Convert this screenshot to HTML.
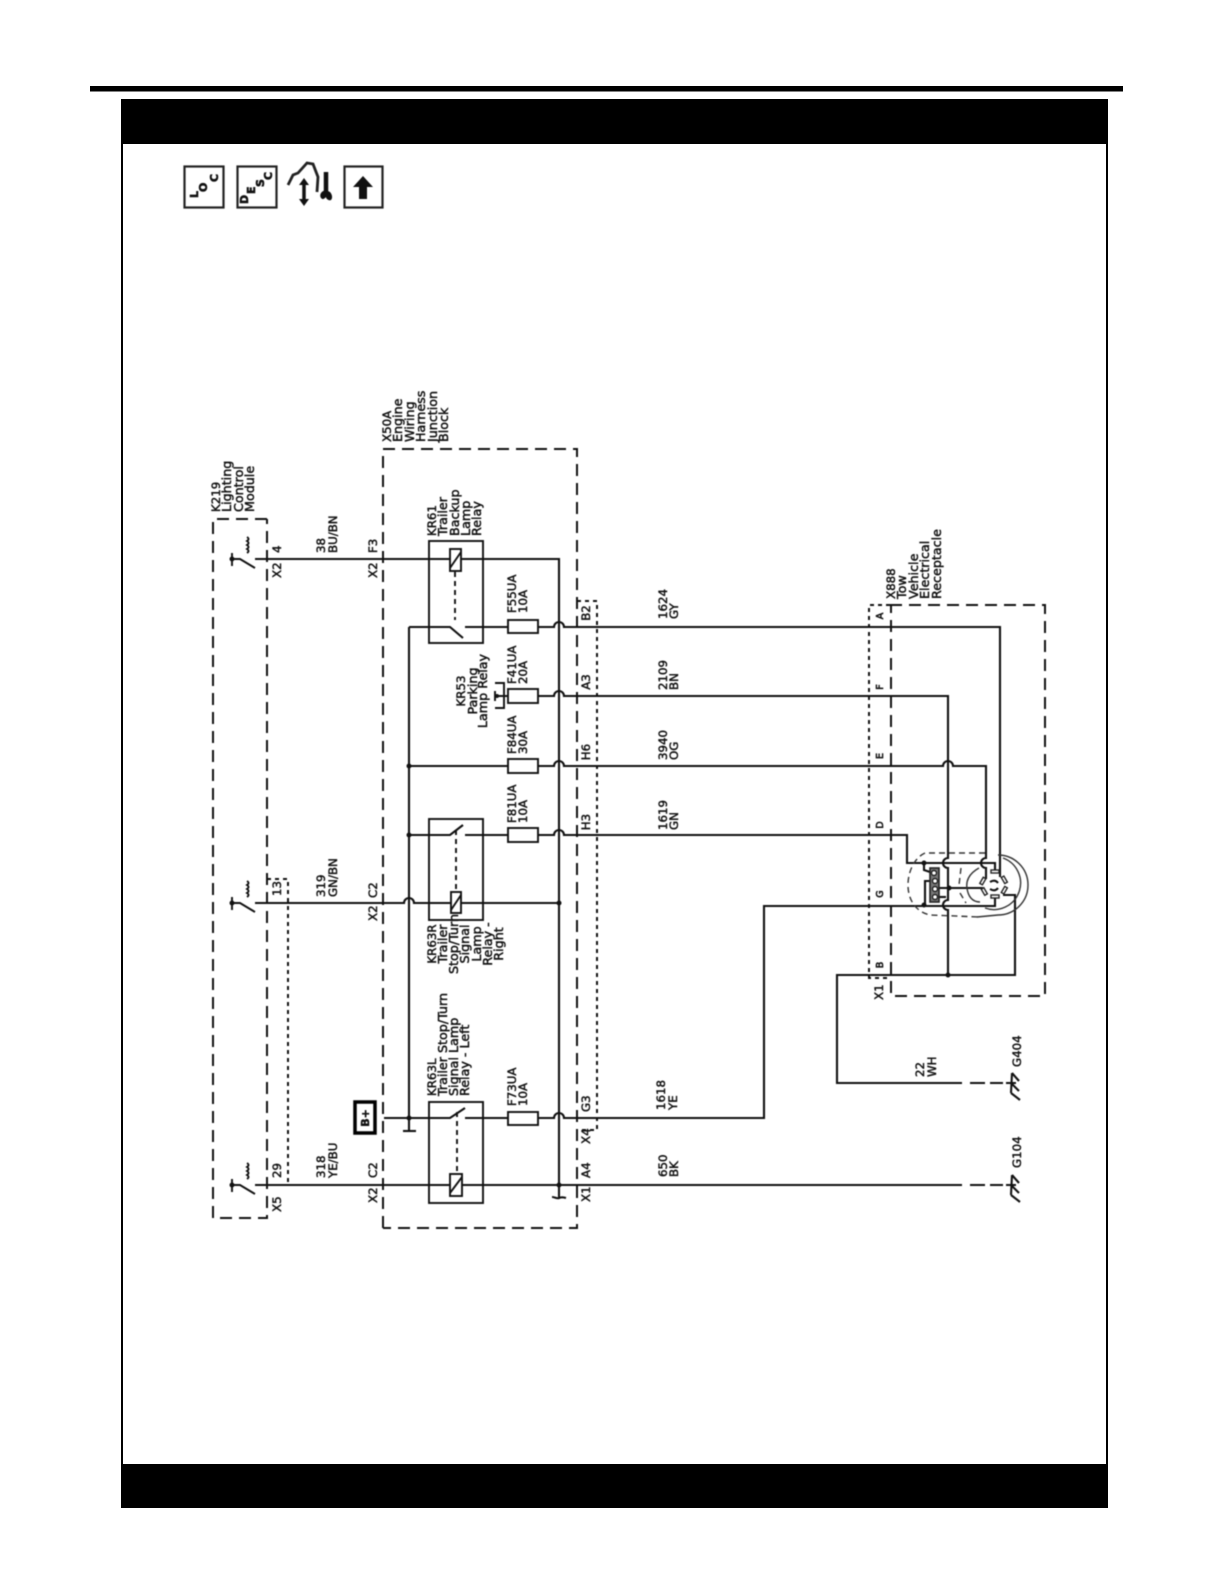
<!DOCTYPE html>
<html><head><meta charset="utf-8"><style>
html,body{margin:0;padding:0;background:#fff}
svg{display:block}
text{font-family:"DejaVu Sans","Liberation Sans",sans-serif;font-size:11.8px;fill:#111;stroke:#111;stroke-width:.45px}
.l{font-size:12.7px}
.s{font-size:9.5px;stroke-width:.6px}
.m{text-anchor:middle}
.w{fill:none;stroke:#111;stroke-width:2.1}
.t{fill:none;stroke:#111;stroke-width:1.9}
.d{fill:none;stroke:#111;stroke-width:2;stroke-dasharray:12 7}
.o{fill:none;stroke:#111;stroke-width:2;stroke-dasharray:4 4}
.f{fill:#fff;stroke:#111;stroke-width:1.9}
.c{fill:none;stroke:#333;stroke-width:1.4}
.cd{fill:none;stroke:#333;stroke-width:1.4;stroke-dasharray:6 4}
.b{filter:blur(.4px)}
</style></head><body>
<svg xmlns="http://www.w3.org/2000/svg" width="1225" height="1585" viewBox="0 0 1225 1585">
<rect width="1225" height="1585" fill="#fff"/>
<rect x="90" y="86" width="1033" height="5.500" fill="#000"/>
<rect x="122" y="100" width="985" height="1407" fill="none" stroke="#000" stroke-width="2"/>
<rect x="121" y="99" width="987" height="45" fill="#000"/>
<rect x="121" y="1464" width="987" height="44" fill="#000"/>

<g class="b">
<!-- icons -->
<rect x="184.500" y="166.500" width="39" height="41" fill="none" stroke="#222" stroke-width="2.200"/>
<rect x="237.500" y="166.500" width="39" height="41" fill="none" stroke="#222" stroke-width="2.200"/>
<rect x="344.500" y="166.500" width="38" height="41" fill="none" stroke="#222" stroke-width="2.200"/>
<text transform="translate(198,198) rotate(-90)" class="s" style="font-size:11px;font-weight:bold">L</text>
<text transform="translate(207,192) rotate(-90)" class="s" style="font-size:11px;font-weight:bold">O</text>
<text transform="translate(218,182) rotate(-90)" class="s" style="font-size:11px;font-weight:bold">C</text>
<text transform="translate(248,204) rotate(-90)" class="s" style="font-size:11px;font-weight:bold">D</text>
<text transform="translate(255,194) rotate(-90)" class="s" style="font-size:11px;font-weight:bold">E</text>
<text transform="translate(264,187) rotate(-90)" class="s" style="font-size:11px;font-weight:bold">S</text>
<text transform="translate(272,180) rotate(-90)" class="s" style="font-size:11px;font-weight:bold">C</text>
<path d="M363 176l10 11h-6v12h-8v-12h-6z" fill="#111"/>
<path d="M288 185l5-10 5-2 9-10 6 1 5 13-1 15" fill="none" stroke="#222" stroke-width="2.800"/>
<path d="M304 181v22" stroke="#111" stroke-width="3.500" fill="none"/>
<path d="M304 178l-5 7h10zM304 206l-5-7h10z" fill="#111"/>
<path d="M326 172v20" stroke="#111" stroke-width="4.500" fill="none"/>
<path d="M326 190c-5 1-7 5-5 8 2 2 3 1 5-1 0 2 3 4 5 3 2-2 1-6-1-8z" fill="#111"/>

<!-- dashed boxes -->
<path class="d" d="M267 519H213V1218H267V519"/>
<path class="o" d="M267 879H288V1185"/>
<path class="o" d="M267 1185H288"/>
<path class="d" d="M383 1228V449H577V1228H383"/>
<path class="o" d="M577 601H597V1130H577"/>
<path class="d" d="M890 605H1045V996H891V605"/>
<path class="o" d="M890 605H869V978H890"/>

<!-- relay boxes -->
<rect class="t" x="429" y="541" width="54" height="102"/>
<rect class="t" x="429" y="819" width="54" height="101"/>
<rect class="t" x="429" y="1102" width="54" height="101"/>

<!-- wires -->
<path class="w" d="M255 559H559V1197"/>
<path class="w" d="M255 903H404a5 5 0 0 1 10 0H559"/>
<path class="w" d="M255 1185H962"/>
<path class="w" d="M409 627V1131"/>
<path class="w" d="M403 1131H416"/>
<path class="w" d="M552 1197c3 0 5 2 7 1s4-1 7 0"/>

<path class="w" d="M409 627H450L463 638M465 627H554a5 5 0 0 1 10 0H1000V877"/>
<path class="w" d="M495 696H554a5 5 0 0 1 10 0H948V858a5 5 0 0 0 0 10V900a5 5 0 0 0 0 10V975"/>
<path class="w" d="M409 766H554a5 5 0 0 1 10 0H943a5 5 0 0 1 10 0H986V858a5 5 0 0 0 0 10V879"/>
<path class="w" d="M409 835H450L463 825M465 835H554a5 5 0 0 1 10 0H907V863H995V871"/>
<path class="w" d="M384 1118H450L465 1108M465 1118H554a5 5 0 0 1 10 0H764V906H995V896"/>
<path class="w" d="M1003 895H1015V975H837V1083H962"/>
<path class="w" d="M970 1083H985M990 1083H1003M1006 1083H1016"/>
<path class="w" d="M970 1185H985M990 1185H1003M1006 1185H1016"/>
<path class="w" d="M935 888H983"/>
<path class="w" d="M933 897H946"/>
<path class="w" d="M924 863V870L930 872M930 881H925V905"/>

<!-- ground symbols -->
<path class="w" d="M1012 1073L1011 1093M1012 1073L1019 1081M1011 1083L1019 1091M1011 1093L1020 1100"/>
<path class="w" d="M1012 1175L1011 1195M1012 1175L1019 1183M1011 1185L1019 1193M1011 1195L1020 1202"/>

<!-- dots -->
<g fill="#111">
<circle cx="409" cy="766" r="2.500"/><circle cx="409" cy="835" r="2.500"/><circle cx="409" cy="1118" r="2.500"/>
<circle cx="559" cy="903" r="2.500"/><circle cx="559" cy="1185" r="2.500"/>
<circle cx="948" cy="975" r="2.500"/><circle cx="949" cy="888" r="2.500"/>
<circle cx="924" cy="863" r="2.500"/><circle cx="924" cy="905" r="2.500"/>
<circle cx="232" cy="559" r="2.500"/><circle cx="232" cy="903" r="2.500"/><circle cx="232" cy="1185" r="2.500"/>
</g>

<!-- K219 switches -->
<path class="t" d="M232 553V566M232 559H240L255 568M247 537q3 2 0 4q3 2 0 4q3 2 0 4q3 2 0 4"/>
<path class="t" d="M232 897V910M232 903H240L255 912M247 881q3 2 0 4q3 2 0 4q3 2 0 4q3 2 0 4"/>
<path class="t" d="M232 1179V1192M232 1185H240L255 1194M247 1163q3 2 0 4q3 2 0 4q3 2 0 4q3 2 0 4"/>

<!-- coils -->
<rect class="f" x="450" y="549" width="11" height="22"/><path class="t" d="M450 568L461 552"/>
<rect class="f" x="451" y="892" width="10" height="21"/><path class="t" d="M451 910L461 895"/>
<rect class="f" x="450" y="1174" width="12" height="22"/><path class="t" d="M450 1193L462 1177"/>
<path class="t" stroke-dasharray="5 4" d="M455 572V620"/>
<path class="t" stroke-dasharray="5 4" d="M456 830V892"/>
<path class="t" stroke-dasharray="5 4" d="M457 1112V1174"/>

<!-- fuses -->
<rect class="f" x="508" y="620" width="30" height="13"/>
<rect class="f" x="508" y="689" width="30" height="14"/>
<rect class="f" x="508" y="759" width="30" height="14"/>
<rect class="f" x="508" y="828" width="30" height="14"/>
<rect class="f" x="508" y="1112" width="30" height="13"/>

<!-- KR53 -->
<path class="t" d="M495 683H504V708H495M495 691V701"/>
<circle cx="497" cy="696" r="2" fill="#111"/>

<!-- B+ -->
<rect x="355" y="1102" width="20" height="31" fill="#fff" stroke="#000" stroke-width="3.500"/>
<text class="m" style="font-weight:bold;font-size:11px" transform="translate(369,1118) rotate(-90)">B+</text>

<!-- receptacle -->
<path class="cd" d="M985 853H925C914 858 908 872 908 885C908 900 916 912 930 915L980 917"/>
<path class="cd" d="M961 868L959 885M960 893L966 903"/>
<path class="c" d="M998 855A30 30 0 0 1 998 915L977 917"/>
<path class="c" d="M1003 858A24 24 0 0 1 985 908"/>
<path class="c" d="M979 868C968 874 966 882 967 888C968 896 972 902 980 902"/>
<rect x="930" y="868" width="9" height="34" fill="#777" stroke="#222" stroke-width="1.600"/>
<g fill="#fff" stroke="#222" stroke-width="1.400">
<circle cx="934" cy="873" r="2.500"/><circle cx="935" cy="881" r="2.500"/><circle cx="935" cy="889" r="2.500"/><circle cx="935" cy="897" r="2.500"/>
<rect x="991" y="870" width="8" height="3"/><rect x="991" y="895" width="8" height="3"/>
<rect x="982" y="878" width="3" height="7" transform="rotate(30 984 880)"/><rect x="982" y="888" width="3" height="7" transform="rotate(-30 984 890)"/>
<rect x="1003" y="876" width="3" height="7" transform="rotate(-30 1005 880)"/><rect x="1003" y="887" width="3" height="7" transform="rotate(30 1005 890)"/>
</g>
<path class="w" d="M990 882q5-3 8 1M990 889q5 3 8-1"/>

<!-- labels: K219 -->
<text transform="translate(220,512) rotate(-90)">K219</text>
<text class="l" transform="translate(231,512) rotate(-90)">Lighting</text>
<text class="l" transform="translate(243,512) rotate(-90)">Control</text>
<text class="l" transform="translate(254,512) rotate(-90)">Module</text>
<!-- X50A -->
<text transform="translate(391,442) rotate(-90)">X50A</text>
<text class="l" transform="translate(402,442) rotate(-90)">Engine</text>
<text class="l" transform="translate(414,442) rotate(-90)">Wiring</text>
<text class="l" transform="translate(425,442) rotate(-90)">Harness</text>
<text class="l" transform="translate(437,442) rotate(-90)">Junction</text>
<text class="l" transform="translate(448,442) rotate(-90)">Block</text>
<!-- KR61 -->
<text transform="translate(436,536) rotate(-90)">KR61</text>
<text class="l" transform="translate(447,536) rotate(-90)">Trailer</text>
<text class="l" transform="translate(459,536) rotate(-90)">Backup</text>
<text class="l" transform="translate(470,536) rotate(-90)">Lamp</text>
<text class="l" transform="translate(481,536) rotate(-90)">Relay</text>
<!-- KR53 -->
<text class="m" transform="translate(465,691) rotate(-90)">KR53</text>
<text class="m l" transform="translate(477,691) rotate(-90)">Parking</text>
<text class="m l" transform="translate(487,691) rotate(-90)">Lamp Relay</text>
<!-- KR63R -->
<text class="m" transform="translate(436,944) rotate(-90)">KR63R</text>
<text class="m l" transform="translate(447,944) rotate(-90)">Trailer</text>
<text class="m l" transform="translate(458,944) rotate(-90)">Stop/Turn</text>
<text class="m l" transform="translate(469,944) rotate(-90)">Signal</text>
<text class="m l" transform="translate(481,944) rotate(-90)">Lamp</text>
<text class="m l" transform="translate(492,944) rotate(-90)">Relay -</text>
<text class="m l" transform="translate(503,944) rotate(-90)">Right</text>
<!-- KR63L -->
<text transform="translate(436,1096) rotate(-90)">KR63L</text>
<text class="l" transform="translate(447,1096) rotate(-90)">Trailer Stop/Turn</text>
<text class="l" transform="translate(458,1096) rotate(-90)">Signal Lamp</text>
<text class="l" transform="translate(469,1096) rotate(-90)">Relay - Left</text>
<!-- fuses -->
<text transform="translate(516,613) rotate(-90)">F55UA</text><text transform="translate(527,613) rotate(-90)">10A</text>
<text transform="translate(516,684) rotate(-90)">F41UA</text><text transform="translate(527,684) rotate(-90)">20A</text>
<text transform="translate(516,754) rotate(-90)">F84UA</text><text transform="translate(527,754) rotate(-90)">30A</text>
<text transform="translate(516,823) rotate(-90)">F81UA</text><text transform="translate(527,823) rotate(-90)">10A</text>
<text transform="translate(516,1106) rotate(-90)">F73UA</text><text transform="translate(527,1106) rotate(-90)">10A</text>
<!-- left wire labels -->
<text transform="translate(325,553) rotate(-90)">38</text><text transform="translate(337,553) rotate(-90)">BU/BN</text>
<text transform="translate(325,897) rotate(-90)">319</text><text transform="translate(337,897) rotate(-90)">GN/BN</text>
<text transform="translate(325,1178) rotate(-90)">318</text><text transform="translate(337,1178) rotate(-90)">YE/BU</text>
<text transform="translate(281,553) rotate(-90)">4</text><text transform="translate(281,578) rotate(-90)">X2</text>
<text transform="translate(281,896) rotate(-90)">13</text>
<text transform="translate(281,1178) rotate(-90)">29</text><text transform="translate(281,1212) rotate(-90)">X5</text>
<text transform="translate(377,553) rotate(-90)">F3</text><text transform="translate(377,578) rotate(-90)">X2</text>
<text transform="translate(377,898) rotate(-90)">C2</text><text transform="translate(377,921) rotate(-90)">X2</text>
<text transform="translate(377,1178) rotate(-90)">C2</text><text transform="translate(377,1203) rotate(-90)">X2</text>
<!-- right connector labels -->
<text class="m" transform="translate(590,613) rotate(-90)">B2</text>
<text class="m" transform="translate(590,682) rotate(-90)">A3</text>
<text class="m" transform="translate(590,752) rotate(-90)">H6</text>
<text class="m" transform="translate(590,822) rotate(-90)">H3</text>
<text transform="translate(590,1112) rotate(-90)">G3</text>
<text transform="translate(590,1144) rotate(-90)">X4</text>
<text transform="translate(590,1178) rotate(-90)">A4</text>
<text transform="translate(590,1202) rotate(-90)">X1</text>
<!-- mid wire labels -->
<text transform="translate(667,619) rotate(-90)">1624</text><text transform="translate(678,619) rotate(-90)">GY</text>
<text transform="translate(667,690) rotate(-90)">2109</text><text transform="translate(678,690) rotate(-90)">BN</text>
<text transform="translate(667,760) rotate(-90)">3940</text><text transform="translate(678,760) rotate(-90)">OG</text>
<text transform="translate(667,830) rotate(-90)">1619</text><text transform="translate(678,830) rotate(-90)">GN</text>
<text transform="translate(665,1110) rotate(-90)">1618</text><text transform="translate(677,1110) rotate(-90)">YE</text>
<text transform="translate(667,1177) rotate(-90)">650</text><text transform="translate(678,1177) rotate(-90)">BK</text>
<text transform="translate(924,1077) rotate(-90)">22</text><text transform="translate(936,1077) rotate(-90)">WH</text>
<text transform="translate(1021,1067) rotate(-90)">G404</text>
<text transform="translate(1021,1168) rotate(-90)">G104</text>
<!-- X888 -->
<text transform="translate(895,599) rotate(-90)">X888</text>
<text class="l" transform="translate(906,599) rotate(-90)">Tow</text>
<text class="l" transform="translate(918,599) rotate(-90)">Vehicle</text>
<text class="l" transform="translate(929,599) rotate(-90)">Electrical</text>
<text class="l" transform="translate(941,599) rotate(-90)">Receptacle</text>
<text class="s m" transform="translate(883,616) rotate(-90)">A</text>
<text class="s m" transform="translate(883,687) rotate(-90)">F</text>
<text class="s m" transform="translate(883,756) rotate(-90)">E</text>
<text class="s m" transform="translate(883,825) rotate(-90)">D</text>
<text class="s m" transform="translate(883,894) rotate(-90)">G</text>
<text class="s m" transform="translate(883,965) rotate(-90)">B</text>
<text transform="translate(883,1000) rotate(-90)">X1</text>
</g>
</svg>
</body></html>
